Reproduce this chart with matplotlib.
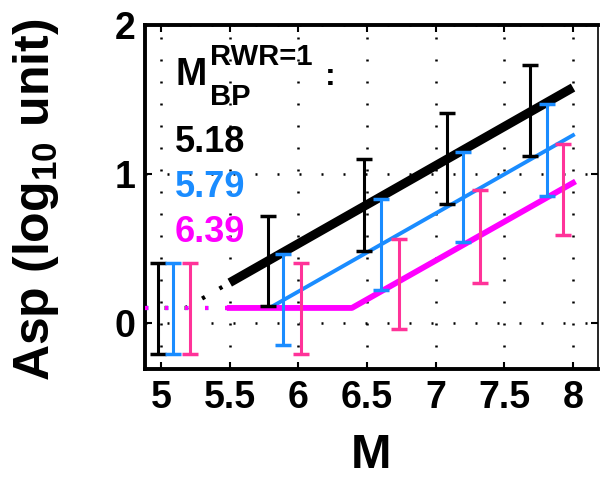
import matplotlib
matplotlib.use("Agg")
from matplotlib import pyplot as plt
import numpy as np

plt.rcParams['font.family'] = ['Liberation Sans', 'DejaVu Sans']
plt.rcParams['font.weight'] = 'bold'
plt.rcParams['axes.labelweight'] = 'bold'
plt.rcParams['mathtext.fontset'] = 'custom'
plt.rcParams['mathtext.rm'] = 'Liberation Sans:bold'
plt.rcParams['mathtext.bf'] = 'Liberation Sans:bold'

# model lines (solid part and dotted extrapolation)
mbp = ['5.18', '5.79', '6.39']
black_x = [5.5, 8.0]
black_y = [0.27, 1.58]
black_dot_x = [4.88, 5.18, 5.5]
black_dot_y = [0.10, 0.10, 0.27]
blue_x = [5.5, 5.79, 8.0]
blue_y = [0.10, 0.10, 1.26]
mag_x = [5.5, 6.39, 8.0]
mag_y = [0.10, 0.10, 0.94]
flat_dot_x = [4.88, 5.5]
flat_dot_y = [0.10, 0.10]

# error bars (low / high)
eb_black_x = [4.98, 5.78, 6.48, 7.08, 7.69]
eb_black_lo = [-0.21, 0.11, 0.48, 0.80, 1.12]
eb_black_hi = [0.40, 0.72, 1.10, 1.41, 1.73]
eb_blue_x = [5.09, 5.89, 6.60, 7.20, 7.81]
eb_blue_lo = [-0.21, -0.15, 0.22, 0.54, 0.85]
eb_blue_hi = [0.40, 0.46, 0.83, 1.15, 1.47]
eb_pink_x = [5.21, 6.02, 6.73, 7.32, 7.93]
eb_pink_lo = [-0.21, -0.21, -0.04, 0.27, 0.59]
eb_pink_hi = [0.40, 0.40, 0.56, 0.89, 1.20]

xticks = [5, 5.5, 6, 6.5, 7, 7.5, 8]
xticklabels = ['5', '5.5', '6', '6.5', '7', '7.5', '8']
yticks = [0, 1, 2]

BLACK = '#000000'
BLUE = '#1A8CFF'
MAG = '#FF00FF'
PINK = '#FF3399'

fig = plt.figure(figsize=(6, 4.86), dpi=100)
ax = fig.add_axes([145/600, 1-369/486, (598-145)/600, (369-25)/486])

dots = (0, (0.8, 4))
ax.plot(black_dot_x, black_dot_y, color=BLACK, lw=3, linestyle=dots, zorder=3)
ax.plot(flat_dot_x, flat_dot_y, color=BLUE, lw=3, linestyle=dots, zorder=3)
ax.plot(flat_dot_x, flat_dot_y, color=MAG, lw=3, linestyle=dots, zorder=3)

ax.plot(black_x, black_y, color=BLACK, lw=6.5, solid_capstyle='butt', zorder=4)
ax.plot(blue_x, blue_y, color=BLUE, lw=2.8, zorder=4)
ax.plot(mag_x, mag_y, color=MAG, lw=4.2, zorder=4)

for xs, lo, hi, c in [(eb_black_x, eb_black_lo, eb_black_hi, BLACK),
                      (eb_blue_x, eb_blue_lo, eb_blue_hi, BLUE),
                      (eb_pink_x, eb_pink_lo, eb_pink_hi, PINK)]:
    lo = np.array(lo)
    hi = np.array(hi)
    mid = (lo + hi) / 2
    ax.errorbar(xs, mid, yerr=[mid - lo, hi - mid], fmt='none', ecolor=c,
                elinewidth=2.2, capsize=5.5, capthick=2.5, zorder=5)

ax.set_xlim(4.883, 8.182)
ax.set_ylim(-0.31, 2.0)
ax.set_xticks(xticks)
ax.set_xticklabels(xticklabels)
ax.set_yticks(yticks)
ax.grid(True, color='k', linestyle=(0, (0.8, 8)), linewidth=1.8)
ax.tick_params(direction='in', length=5, width=1.5, top=True, right=True,
               labelsize=27)
ax.tick_params(axis='x', pad=8)
ax.tick_params(axis='y', pad=7)
for s in ['left', 'bottom', 'top']:
    ax.spines[s].set_linewidth(2.8)
ax.spines['right'].set_linewidth(1.2)

ax.set_xlabel('M', fontsize=35, fontweight='bold', labelpad=12)
fig.text(36/600, 1-200/486, r'Asp (log$_{10}$ unit)', fontsize=36,
         rotation=90, ha='center', va='center')

# legend-like text block
fig.text(175/600, 1-85/486, 'M', fontsize=27, va='baseline')
fig.text(210/600, 1-65/486, 'RWR=1', fontsize=21, va='baseline')
fig.text(210/600, 1-105/486, 'BP', fontsize=21, va='baseline')
fig.text(325/600, 1-85/486, ':', fontsize=23, va='baseline')
for i, (txt, c) in enumerate(zip(mbp, [BLACK, BLUE, MAG])):
    fig.text(175/600, 1-(152 + 45*i)/486, txt, fontsize=26, color=c,
             va='baseline')

plt.savefig('out.png', dpi=100)
